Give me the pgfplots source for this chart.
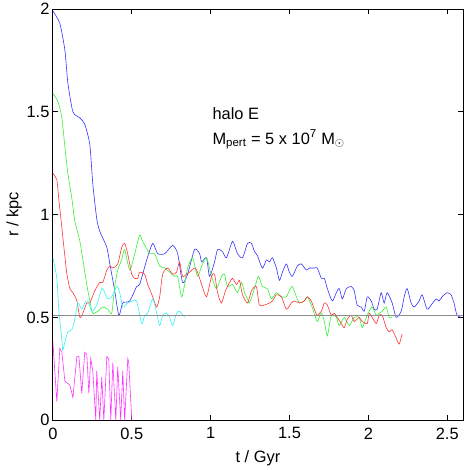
\documentclass[border=0pt]{standalone}
\usepackage{fontspec}
\setmainfont{Liberation Sans}
\usepackage{pgfplots}
\pgfplotsset{compat=1.18}
\definecolor{gblue}{rgb}{0.2,0.2,1}
\definecolor{ggreen}{rgb}{0.2,0.95,0.2}
\definecolor{gred}{rgb}{1,0.2,0.2}
\definecolor{gcyan}{rgb}{0.2,0.95,0.95}
\definecolor{gmagenta}{rgb}{1,0.2,1}

\begin{document}
\begin{tikzpicture}[font=\fontsize{16.5}{20}\selectfont]
\begin{axis}[
    scale only axis,
    width=411bp, height=412bp,
    xmin=0, xmax=2.6, ymin=0, ymax=2,
    xtick={0,0.5,1,1.5,2,2.5},
    ytick={0,0.5,1,1.5,2},
    tick align=inside,
    major tick length=5bp,
    axis line style={line width=0.8pt},
    tick style={line width=0.8pt, black},
    /pgf/number format/assume math mode=true,
    xticklabel style={yshift=-4bp},
    xlabel={t / Gyr}, ylabel={r / kpc},
    xlabel style={yshift=-5bp},
    ylabel style={yshift=-2bp},
    every axis plot/.append style={line width=0.6pt},
    clip=true,
]
\addplot[gblue, smooth, tension=0.4] coordinates {
(0,1.99) (0.044,1.93) (0.076,1.80) (0.095,1.64) (0.127,1.50) (0.171,1.47) (0.202,1.44)
(0.234,1.34) (0.253,1.15) (0.278,0.98) (0.297,0.92) (0.342,0.84) (0.361,0.76) (0.392,0.63)
(0.418,0.51) (0.443,0.57) (0.487,0.58) (0.531,0.65) (0.550,0.66) (0.595,0.78) (0.633,0.86)
(0.664,0.81) (0.709,0.81) (0.759,0.85) (0.791,0.81) (0.822,0.67) (0.854,0.71) (0.898,0.83)
(0.930,0.81) (0.943,0.77) (0.974,0.79) (0.993,0.70) (1.025,0.77) (1.044,0.83) (1.075,0.82)
(1.101,0.79) (1.139,0.87) (1.170,0.81) (1.202,0.79) (1.234,0.86) (1.259,0.86) (1.278,0.82)
(1.297,0.80) (1.328,0.74) (1.354,0.78) (1.373,0.77) (1.392,0.79) (1.417,0.74) (1.436,0.68)
(1.455,0.72) (1.480,0.76) (1.499,0.72) (1.518,0.70) (1.550,0.75) (1.575,0.76) (1.607,0.73)
(1.626,0.74) (1.657,0.74) (1.676,0.74) (1.702,0.69) (1.721,0.69) (1.740,0.64) (1.771,0.58)
(1.797,0.62) (1.816,0.64) (1.835,0.59) (1.860,0.64) (1.891,0.65) (1.910,0.63) (1.929,0.56)
(1.955,0.55) (1.974,0.53) (1.993,0.60) (2.018,0.58) (2.037,0.54) (2.056,0.54) (2.081,0.62)
(2.100,0.57) (2.119,0.62) (2.151,0.57) (2.176,0.50) (2.208,0.53) (2.227,0.60) (2.246,0.64)
(2.271,0.57) (2.290,0.55) (2.322,0.58) (2.341,0.61) (2.372,0.54) (2.398,0.56) (2.429,0.59)
(2.448,0.58) (2.467,0.60) (2.499,0.62) (2.524,0.61) (2.543,0.57) (2.562,0.51) (2.59,0.50)
};
\addplot[ggreen, smooth, tension=0.4] coordinates {
(0,1.59) (0.032,1.55) (0.057,1.47) (0.076,1.33) (0.095,1.20) (0.120,1.08) (0.139,0.97)
(0.171,0.87) (0.190,0.78) (0.215,0.66) (0.234,0.58) (0.253,0.52) (0.285,0.53) (0.316,0.55)
(0.348,0.54) (0.373,0.52) (0.392,0.65) (0.411,0.73) (0.436,0.78) (0.455,0.83) (0.487,0.73)
(0.519,0.81) (0.550,0.90) (0.569,0.87) (0.614,0.81) (0.645,0.81) (0.677,0.75) (0.709,0.74)
(0.740,0.72) (0.772,0.70) (0.791,0.70) (0.816,0.60) (0.835,0.66) (0.854,0.74) (0.886,0.79)
(0.917,0.70) (0.943,0.75) (0.974,0.79) (1.006,0.70) (1.037,0.64) (1.069,0.70) (1.088,0.71)
(1.107,0.65) (1.139,0.66) (1.170,0.62) (1.196,0.67) (1.215,0.62) (1.234,0.59) (1.246,0.57)
(1.278,0.64) (1.303,0.70) (1.328,0.65) (1.360,0.64) (1.385,0.59) (1.417,0.62) (1.449,0.60)
(1.480,0.60) (1.499,0.63) (1.518,0.65) (1.544,0.60) (1.563,0.57) (1.594,0.58) (1.613,0.60)
(1.638,0.56) (1.657,0.52) (1.676,0.48) (1.702,0.52) (1.721,0.48) (1.740,0.41) (1.765,0.51)
(1.797,0.50) (1.816,0.46) (1.847,0.50) (1.879,0.46) (1.910,0.50) (1.942,0.50) (1.961,0.45)
(1.986,0.50) (2.005,0.53) (2.024,0.55) (2.050,0.51) (2.069,0.52) (2.088,0.53) (2.113,0.55)
(2.132,0.50) (2.151,0.50)
};
\addplot[gred, smooth, tension=0.4] coordinates {
(0,1.20) (0.025,1.17) (0.038,1.07) (0.051,0.98) (0.070,0.84) (0.089,0.71) (0.108,0.64)
(0.127,0.62) (0.152,0.58) (0.171,0.50) (0.190,0.52) (0.215,0.57) (0.234,0.57) (0.266,0.63)
(0.297,0.67) (0.316,0.67) (0.342,0.73) (0.361,0.75) (0.380,0.74) (0.411,0.76) (0.436,0.84)
(0.455,0.86) (0.474,0.81) (0.500,0.71) (0.519,0.69) (0.538,0.69) (0.550,0.72) (0.582,0.71)
(0.601,0.66) (0.633,0.60) (0.658,0.55) (0.677,0.60) (0.696,0.71) (0.727,0.74) (0.759,0.71)
(0.784,0.72) (0.803,0.77) (0.822,0.70) (0.848,0.71) (0.867,0.72) (0.898,0.74) (0.917,0.72)
(0.943,0.66) (0.974,0.60) (1.006,0.70) (1.025,0.71) (1.044,0.62) (1.069,0.57) (1.094,0.63)
(1.120,0.67) (1.139,0.69) (1.164,0.66) (1.183,0.68) (1.202,0.61) (1.234,0.57) (1.259,0.63)
(1.290,0.65) (1.309,0.56) (1.341,0.56) (1.373,0.57) (1.392,0.58) (1.417,0.61) (1.449,0.60)
(1.480,0.54) (1.512,0.57) (1.531,0.58) (1.563,0.57) (1.594,0.58) (1.613,0.60) (1.638,0.58)
(1.657,0.54) (1.676,0.51) (1.702,0.53) (1.721,0.57) (1.740,0.56) (1.765,0.51) (1.784,0.52)
(1.803,0.50) (1.828,0.47) (1.847,0.45) (1.866,0.49) (1.891,0.51) (1.910,0.48) (1.942,0.50)
(1.961,0.48) (1.993,0.47) (2.005,0.52) (2.024,0.50) (2.050,0.47) (2.069,0.51) (2.088,0.51)
(2.113,0.45) (2.132,0.43) (2.151,0.44) (2.176,0.40) (2.195,0.37) (2.214,0.42)
};
\addplot[gcyan, smooth, tension=0.4] coordinates {
(0,0.79) (0.025,0.69) (0.038,0.53) (0.057,0.39) (0.063,0.34) (0.076,0.38) (0.095,0.43)
(0.120,0.44) (0.139,0.49) (0.158,0.57) (0.183,0.54) (0.202,0.57) (0.221,0.58) (0.247,0.53)
(0.278,0.56) (0.310,0.64) (0.329,0.62) (0.348,0.59) (0.373,0.60) (0.405,0.65) (0.424,0.62)
(0.443,0.55) (0.474,0.57) (0.506,0.58) (0.531,0.58) (0.563,0.47) (0.582,0.51) (0.601,0.52)
(0.633,0.59) (0.658,0.52) (0.677,0.46) (0.696,0.51) (0.721,0.52) (0.740,0.50) (0.759,0.46)
(0.784,0.52) (0.803,0.53) (0.835,0.50)
};
\addplot[gmagenta] coordinates {
(0,0.38) (0.025,0.09) (0.044,0.35) (0.057,0.33) (0.076,0.19) (0.108,0.17) (0.127,0.11)
(0.152,0.31) (0.165,0.31) (0.183,0.13) (0.202,0.33) (0.215,0.32) (0.228,0.13) (0.240,0.30)
(0.253,0.24) (0.272,0.0) (0.278,0.24) (0.297,0.0) (0.310,0.21) (0.323,0.0) (0.342,0.31)
(0.354,0.30) (0.367,0.0) (0.380,0.28) (0.399,0.0) (0.411,0.26) (0.430,0.0) (0.443,0.24)
(0.455,0.0) (0.475,0.30) (0.481,0.28) (0.500,0.0)
};
\addplot[black!45, line width=1.1pt] coordinates {(0,0.51) (2.6,0.51)};
\node[anchor=west] at (axis cs:0.99,1.49) {halo E};
\node[anchor=west] at (axis cs:0.99,1.365) {M\textsubscript{pert} = 5 x 10\textsuperscript{7} M$_\odot$};
\end{axis}
\path (current axis.south west) ++(-53bp,-47bp);
\path (current axis.north east) ++(7bp,8bp);
\end{tikzpicture}
\end{document}
